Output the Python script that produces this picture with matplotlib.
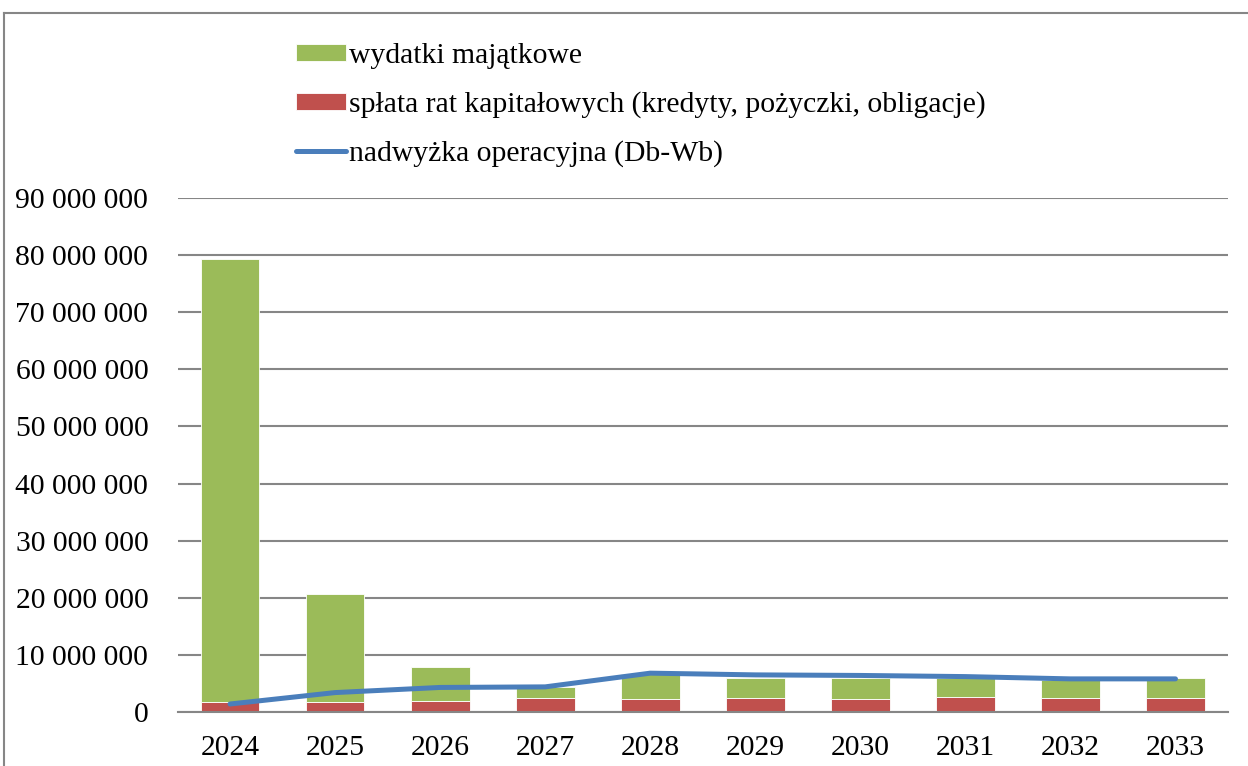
import matplotlib
matplotlib.use("Agg")
import matplotlib.pyplot as plt
from matplotlib.lines import Line2D
from matplotlib.ticker import FuncFormatter
import numpy as np

years = ["2024", "2025", "2026", "2027", "2028", "2029", "2030", "2031", "2032", "2033"]
# values in PLN
splata_rat = [1.8e6, 1.8e6, 2.0e6, 2.5e6, 2.2e6, 2.5e6, 2.2e6, 2.7e6, 2.5e6, 2.5e6]
wydatki_majatkowe = [77.5e6, 18.9e6, 5.9e6, 1.9e6, 4.4e6, 3.5e6, 3.7e6, 3.2e6, 3.1e6, 3.4e6]
nadwyzka = [1.4e6, 3.4e6, 4.3e6, 4.4e6, 6.8e6, 6.5e6, 6.4e6, 6.2e6, 5.8e6, 5.8e6]

GREEN = "#9bbb59"
RED = "#c0504d"
BLUE = "#4a7ebb"
GRID = "#868686"

plt.rcParams["font.family"] = ["Liberation Serif", "DejaVu Serif"]

W, H = 1248, 766
fig = plt.figure(figsize=(W / 100, H / 100), dpi=100)
ax = fig.add_axes([177.5 / W, 1 - 712 / H, (1228 - 177.5) / W, (712 - 198) / H])

x = np.arange(len(years))
red_bars = ax.bar(x, splata_rat, width=0.56, color=RED, edgecolor="white", linewidth=0.6,
                  zorder=2)
green_bars = ax.bar(x, wydatki_majatkowe, width=0.56, bottom=splata_rat, color=GREEN,
                    edgecolor="white", linewidth=0.6, zorder=2)
line, = ax.plot(x, nadwyzka, color=BLUE, linewidth=3.6, solid_capstyle="round", zorder=3)

ax.set_xlim(-0.5, len(years) - 0.5)
ax.set_ylim(0, 90e6)
ax.set_yticks(np.arange(0, 90e6 + 1, 10e6))
ax.yaxis.set_major_formatter(FuncFormatter(lambda v, p: f"{int(v):,}".replace(",", " ")))
ax.set_xticks(x)
ax.set_xticklabels(years)
ax.grid(axis="y", color=GRID, linewidth=1.5, zorder=0)
ax.set_axisbelow(True)
for s in ["top", "right", "left"]:
    ax.spines[s].set_visible(False)
ax.spines["bottom"].set_color(GRID)
ax.spines["bottom"].set_linewidth(1.5)
ax.tick_params(axis="both", length=0, labelsize=21.3)
ax.tick_params(axis="y", pad=21)
ax.tick_params(axis="x", pad=16.5)

fig.legend([green_bars, red_bars, line],
           ["wydatki majątkowe",
            "spłata rat kapitałowych (kredyty, pożyczki, obligacje)",
            "nadwyżka operacyjna (Db-Wb)"],
           loc="upper left", bbox_to_anchor=(296 / W, 1 - 43 / H),
           frameon=False, fontsize=21.3, handlelength=1.7, handleheight=0.5,
           handletextpad=0.1, labelspacing=0.75, borderaxespad=0, borderpad=0)

# chart area border (cut off at right and bottom)
fig.add_artist(Line2D([4 / W, 4 / W], [0, 1 - 13 / H], color=GRID, linewidth=1.5))
fig.add_artist(Line2D([4 / W, 1], [1 - 13 / H, 1 - 13 / H], color=GRID, linewidth=1.5))

fig.savefig("out.png", dpi=100)
